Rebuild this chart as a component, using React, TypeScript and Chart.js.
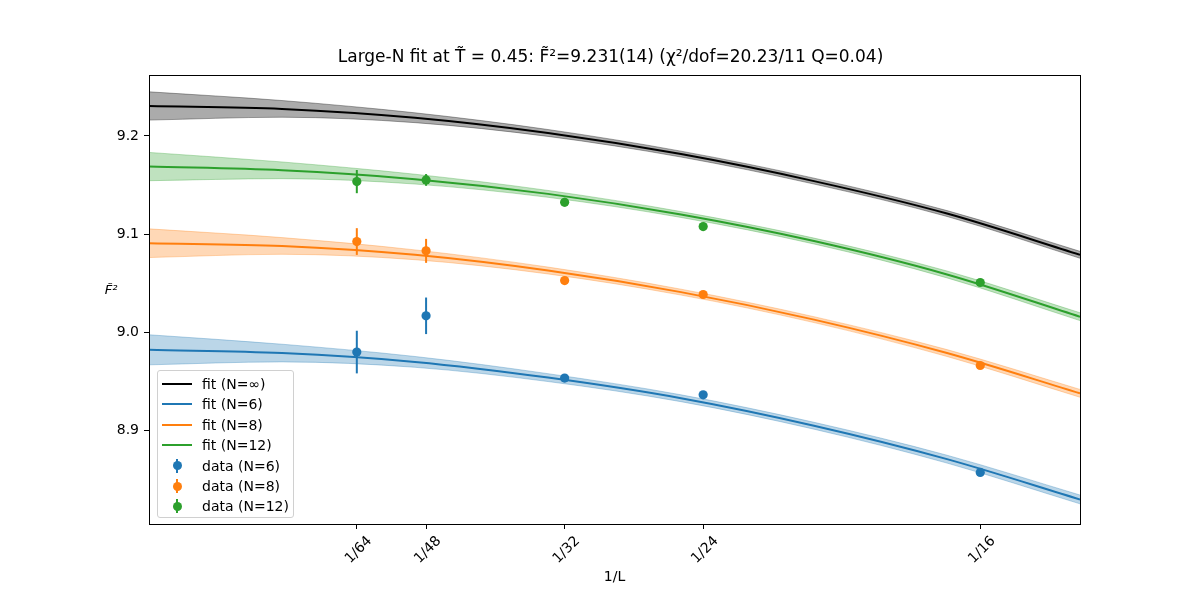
import { useEffect, useRef } from "react";
import { Chart, registerables } from "chart.js";

Chart.register(...registerables);

// fit curves, sampled along 1/L
const xFit = [0, 0.01, 0.02, 0.03, 0.04, 0.05, 0.06, 0.07];
const fitInf = [9.2305, 9.2275, 9.2185, 9.203, 9.1815, 9.154, 9.121, 9.079];
const fitN6 = [8.9823, 8.979, 8.970, 8.954, 8.933, 8.905, 8.871, 8.830];
const fitN8 = [9.0908, 9.088, 9.079, 9.063, 9.041, 9.013, 8.979, 8.938];
const fitN12 = [9.1688, 9.165, 9.156, 9.141, 9.120, 9.093, 9.059, 9.016];

// half width of the error bands
const bandInf = [0.0144, 0.0085, 0.005, 0.0035, 0.003, 0.003, 0.003, 0.0035];
const bandN6 = [0.0153, 0.009, 0.0055, 0.004, 0.0035, 0.0035, 0.004, 0.0045];
const bandN8 = [0.0146, 0.0085, 0.005, 0.0035, 0.003, 0.003, 0.0035, 0.004];
const bandN12 = [0.0144, 0.0085, 0.005, 0.0035, 0.003, 0.003, 0.0035, 0.004];

// measured points
const xData = [1 / 64, 1 / 48, 1 / 32, 1 / 24, 1 / 16];
const dataN6 = [8.980, 9.0169, 8.9535, 8.9365, 8.8575];
const errN6 = [0.0217, 0.0186, 0.002, 0.002, 0.002];
const dataN8 = [9.0925, 9.083, 9.0528, 9.0386, 8.9663];
const errN8 = [0.0136, 0.0122, 0.002, 0.002, 0.002];
const dataN12 = [9.1535, 9.1552, 9.1325, 9.1077, 9.0508];
const errN12 = [0.0118, 0.006, 0.0045, 0.003, 0.002];

const xTickValues = [1 / 64, 1 / 48, 1 / 32, 1 / 24, 1 / 16];
const xTickLabels = ["1/64", "1/48", "1/32", "1/24", "1/16"];
const yTickValues = [8.9, 9.0, 9.1, 9.2];

const BLUE = "31,119,180";
const ORANGE = "255,127,14";
const GREEN = "44,160,44";
const BLACK = "0,0,0";

const FONT = "'DejaVu Sans', sans-serif";
const TITLE = "Large-N fit at T\u0303 = 0.45: F\u0303\u00b2=9.231(14) (\u03c7\u00b2/dof=20.23/11 Q=0.04)";

const pts = (xs: number[], ys: number[]) => xs.map((x, i) => ({ x, y: ys[i] }));

export default function App() {
  const canvasRef = useRef<HTMLCanvasElement>(null);
  const chartRef = useRef<Chart | null>(null);

  useEffect(() => {
    if (!canvasRef.current) return;
    if (chartRef.current) chartRef.current.destroy();

    const scatter = (ys: number[], rgb: string) => ({
      data: pts(xData, ys),
      showLine: false,
      pointRadius: 4.6,
      pointBorderWidth: 0,
      pointBackgroundColor: `rgb(${rgb})`,
      backgroundColor: `rgb(${rgb})`,
    });
    const line = (ys: number[], rgb: string) => ({
      data: pts(xFit, ys),
      showLine: true,
      borderColor: `rgb(${rgb})`,
      borderWidth: 2,
      pointRadius: 0,
      cubicInterpolationMode: "monotone" as const,
      fill: false,
    });
    const edge = (ys: number[], hw: number[], sign: number, rgb: string, a: number, target: number | false) => ({
      data: pts(xFit, ys.map((v, i) => v + sign * hw[i])),
      showLine: true,
      borderColor: `rgba(${rgb},${a})`,
      backgroundColor: `rgba(${rgb},${a})`,
      borderWidth: 1,
      pointRadius: 0,
      cubicInterpolationMode: "monotone" as const,
      fill: target === false ? false : { target },
    });

    const errSets = [
      { ys: dataN6, err: errN6, rgb: BLUE },
      { ys: dataN8, err: errN8, rgb: ORANGE },
      { ys: dataN12, err: errN12, rgb: GREEN },
    ];

    const overlay = {
      id: "overlay",
      beforeDatasetDraw(chart: any, args: any) {
        if (args.index !== 2) return;
        const { ctx, scales } = chart;
        ctx.save();
        ctx.lineWidth = 2;
        errSets.forEach((s) => {
          ctx.strokeStyle = `rgb(${s.rgb})`;
          xData.forEach((x, i) => {
            const px = scales.x.getPixelForValue(x);
            ctx.beginPath();
            ctx.moveTo(px, scales.y.getPixelForValue(s.ys[i] - s.err[i]));
            ctx.lineTo(px, scales.y.getPixelForValue(s.ys[i] + s.err[i]));
            ctx.stroke();
          });
        });
        ctx.restore();
      },
      afterDraw(chart: any) {
        const { ctx, chartArea: a } = chart;
        ctx.save();
        ctx.strokeStyle = "#000";
        ctx.lineWidth = 1;
        ctx.strokeRect(a.left + 0.5, a.top + 0.5, a.right - a.left, a.bottom - a.top);
        ctx.fillStyle = "#000";
        ctx.textAlign = "center";
        ctx.textBaseline = "middle";
        ctx.font = `17px ${FONT}`;
        ctx.fillText(TITLE, (a.left + a.right) / 2 - 4, 58);
        ctx.font = `14px ${FONT}`;
        ctx.fillText("1/L", (a.left + a.right) / 2, 577);
        ctx.font = `italic 13px ${FONT}`;
        ctx.fillText("F\u0303\u00b2", 111, 291);
        ctx.restore();
      },
    };

    chartRef.current = new Chart(canvasRef.current, {
      type: "scatter",
      data: {
        datasets: [
          scatter(dataN6, BLUE),
          scatter(dataN8, ORANGE),
          scatter(dataN12, GREEN),
          line(fitInf, BLACK),
          line(fitN6, BLUE),
          line(fitN8, ORANGE),
          line(fitN12, GREEN),
          edge(fitInf, bandInf, 1, BLACK, 0.33, false),
          edge(fitInf, bandInf, -1, BLACK, 0.33, 7),
          edge(fitN6, bandN6, 1, BLUE, 0.3, false),
          edge(fitN6, bandN6, -1, BLUE, 0.3, 9),
          edge(fitN8, bandN8, 1, ORANGE, 0.3, false),
          edge(fitN8, bandN8, -1, ORANGE, 0.3, 11),
          edge(fitN12, bandN12, 1, GREEN, 0.3, false),
          edge(fitN12, bandN12, -1, GREEN, 0.3, 13),
        ] as any,
      },
      options: {
        animation: false,
        responsive: false,
        events: [],
        layout: { padding: { top: 75, right: 120, left: 0, bottom: 0 } },
        plugins: {
          legend: { display: false },
          title: { display: false },
          tooltip: { enabled: false },
        },
        scales: {
          x: {
            type: "linear",
            min: 0,
            max: 0.07,
            afterBuildTicks: (s: any) => {
              s.ticks = xTickValues.map((value) => ({ value }));
            },
            afterFit: (s: any) => {
              s.height = 76;
            },
            ticks: {
              autoSkip: false,
              minRotation: 45,
              maxRotation: 45,
              labelOffset: 13,
              padding: 4,
              color: "#000",
              font: { family: FONT, size: 14 },
              callback: (_v: any, i: number) => xTickLabels[i],
            },
            grid: { drawOnChartArea: false, drawTicks: true, tickLength: 5, color: "#000" },
            border: { display: true, color: "#000", width: 1 },
          },
          y: {
            type: "linear",
            min: 8.805,
            max: 9.262,
            afterBuildTicks: (s: any) => {
              s.ticks = yTickValues.map((value) => ({ value }));
            },
            afterFit: (s: any) => {
              s.width = 149;
            },
            ticks: {
              padding: 5,
              color: "#000",
              font: { family: FONT, size: 14 },
              callback: (v: any) => Number(v).toFixed(1),
            },
            grid: { drawOnChartArea: false, drawTicks: true, tickLength: 5, color: "#000" },
            border: { display: true, color: "#000", width: 1 },
          },
        },
      },
      plugins: [overlay],
    });

    return () => {
      if (chartRef.current) {
        chartRef.current.destroy();
        chartRef.current = null;
      }
    };
  }, []);

  const legendRows = [
    { kind: "line", rgb: BLACK, text: "fit (N=\u221e)" },
    { kind: "line", rgb: BLUE, text: "fit (N=6)" },
    { kind: "line", rgb: ORANGE, text: "fit (N=8)" },
    { kind: "line", rgb: GREEN, text: "fit (N=12)" },
    { kind: "dot", rgb: BLUE, text: "data (N=6)" },
    { kind: "dot", rgb: ORANGE, text: "data (N=8)" },
    { kind: "dot", rgb: GREEN, text: "data (N=12)" },
  ];

  return (
    <div style={{ position: "fixed", left: 0, top: 0, width: 1200, height: 600, background: "#fff" }}>
      <canvas ref={canvasRef} width={1200} height={600} />
      <div
        style={{
          position: "absolute",
          left: 157,
          top: 370,
          width: 135,
          height: 146,
          border: "1px solid #d0d0d0",
          borderRadius: 3,
          background: "rgba(255,255,255,0.8)",
          fontFamily: FONT,
          fontSize: 14,
        }}
      >
        {legendRows.map((r, i) => (
          <div key={i} style={{ position: "absolute", left: 0, top: 3 + i * 20.4, height: 20, width: 135 }}>
            {r.kind === "line" ? (
              <div style={{ position: "absolute", left: 4, top: 9, width: 30, height: 2, background: `rgb(${r.rgb})` }} />
            ) : (
              <>
                <div style={{ position: "absolute", left: 18, top: 3, width: 2, height: 14, background: `rgb(${r.rgb})` }} />
                <div style={{ position: "absolute", left: 14.5, top: 5.5, width: 9, height: 9, borderRadius: "50%", background: `rgb(${r.rgb})` }} />
              </>
            )}
            <span style={{ position: "absolute", left: 44, top: 1, lineHeight: "18px", whiteSpace: "nowrap" }}>{r.text}</span>
          </div>
        ))}
      </div>
    </div>
  );
}
